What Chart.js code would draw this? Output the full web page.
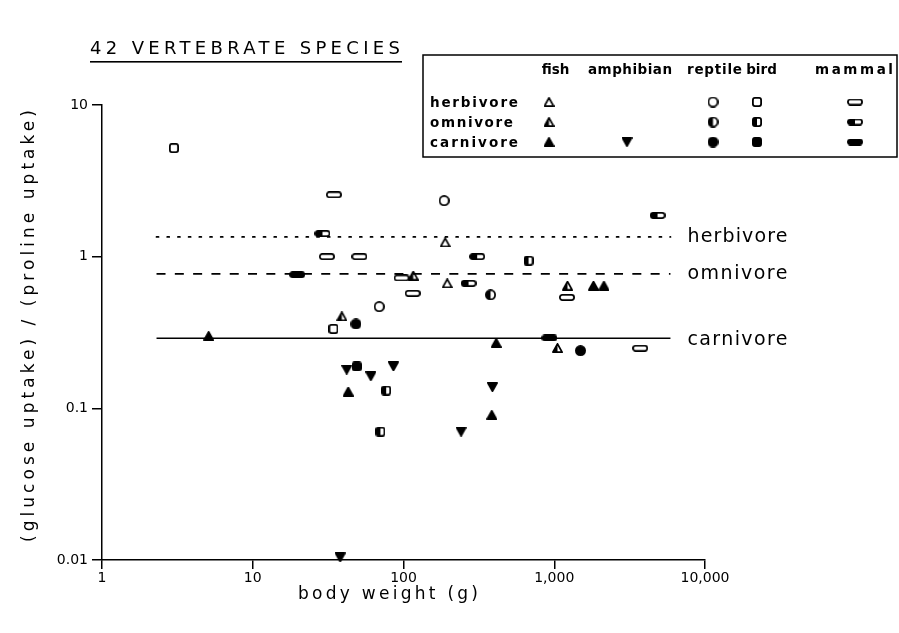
<!DOCTYPE html>
<html>
<head>
<meta charset="utf-8">
<script src="https://cdn.jsdelivr.net/npm/chart.js@4.4.1/dist/chart.umd.min.js"></script>
<style>
  html, body { margin: 0; padding: 0; background: #fff; }
</style>
</head>
<body>
<canvas id="chart" width="899" height="633"></canvas>
<script>
// [body weight (g), glucose uptake / proline uptake]
const fishHerbivore = [[189, 1.24], [195, 0.667]];
const fishOmnivore = [[39, 0.404], [116, 0.75], [1050, 0.25], [1224, 0.644]];
const fishCarnivore = [[5.1, 0.30], [43, 0.129], [385, 0.0905], [412, 0.27], [1821, 0.644], [2134, 0.644]];
const amphibianCarnivore = [[38, 0.0104], [42, 0.18], [60.7, 0.163], [85.7, 0.189], [241, 0.0702], [389, 0.138]];
const reptileHerbivore = [[69, 0.468], [186, 2.34]];
const reptileOmnivore = [[378, 0.56]];
const reptileCarnivore = [[48.4, 0.36], [1493, 0.24]];
const birdHerbivore = [[3.0, 5.2], [34.3, 0.334]];
const birdOmnivore = [[70.3, 0.0702], [76.7, 0.131], [675, 0.94]];
const birdCarnivore = [[49, 0.189]];
const mammalHerbivore = [[31, 1.0], [34.5, 2.56], [51, 1.0], [97, 0.724], [115, 0.573], [1213, 0.539], [3715, 0.249]];
const mammalOmnivore = [[29, 1.42], [270, 0.667], [308, 1.0], [4842, 1.87]];
const mammalCarnivore = [[19.7, 0.76], [929, 0.291]];

// mean ratio lines for each diet
const dietNames = ['herbivore', 'omnivore', 'carnivore'];
const dietRatio = [1.35, 0.77, 0.29];
const dietLineX = [2.3, 5900];

const groupNames = ['fish', 'amphibian', 'reptile', 'bird', 'mammal'];
const xTicks = [1, 10, 100, 1000, 10000];
const yTicks = [0.01, 0.1, 1, 10];

const FONT = '"DejaVu Sans", sans-serif';
Chart.defaults.font.family = FONT;
Chart.defaults.color = '#000';

// little hand-drawn style markers: open / half filled / filled
function makeMarker(shape, fill) {
  const sizes = { tri: [11, 10], down: [11, 10], circle: [11, 11], square: [10, 10], rect: [16, 7] };
  const w = sizes[shape][0], h = sizes[shape][1];
  const cv = document.createElement('canvas');
  cv.width = w; cv.height = h;
  const g = cv.getContext('2d');
  const lw = 1.8, m = lw / 2;
  g.lineWidth = lw;
  g.lineJoin = 'round';
  g.strokeStyle = '#000';
  g.fillStyle = '#000';
  g.beginPath();
  if (shape === 'tri') { g.moveTo(w / 2, m); g.lineTo(w - m, h - m); g.lineTo(m, h - m); g.closePath(); }
  else if (shape === 'down') { g.moveTo(m, m); g.lineTo(w - m, m); g.lineTo(w / 2, h - m); g.closePath(); }
  else if (shape === 'circle') g.arc(w / 2, h / 2, w / 2 - m, 0, Math.PI * 2);
  else g.roundRect(m, m, w - lw, h - lw, shape === 'rect' ? 2.5 : 2);
  if (fill === 'full') g.fill();
  if (fill === 'half') { g.save(); g.clip(); g.fillRect(0, 0, w / 2, h); g.restore(); }
  g.stroke();
  return cv;
}

const markers = {
  fish: ['tri', 'tri', 'tri'],
  amphibian: [null, null, 'down'],
  reptile: ['circle', 'circle', 'circle'],
  bird: ['square', 'square', 'square'],
  mammal: ['rect', 'rect', 'rect']
};
const fills = ['open', 'half', 'full'];
function markerFor(group, diet) {
  const shape = markers[group][diet];
  return shape ? makeMarker(shape, fills[diet]) : null;
}

const pointSets = [
  [fishHerbivore, 'fish', 0], [fishOmnivore, 'fish', 1], [fishCarnivore, 'fish', 2],
  [amphibianCarnivore, 'amphibian', 2],
  [reptileHerbivore, 'reptile', 0], [reptileOmnivore, 'reptile', 1], [reptileCarnivore, 'reptile', 2],
  [birdHerbivore, 'bird', 0], [birdOmnivore, 'bird', 1], [birdCarnivore, 'bird', 2],
  [mammalHerbivore, 'mammal', 0], [mammalOmnivore, 'mammal', 1], [mammalCarnivore, 'mammal', 2]
];

const lineDash = [[2, 8.7], [9, 9.3], []];
const datasets = dietRatio.map((r, i) => ({
  type: 'line',
  data: dietLineX.map(x => ({ x: x, y: r })),
  borderColor: '#000',
  borderWidth: i === 2 ? 1.5 : 1.8,
  borderDash: lineDash[i],
  borderCapStyle: i === 0 ? 'round' : 'butt',
  pointRadius: 0,
  fill: false
}));
pointSets.forEach(s => {
  datasets.push({
    type: 'scatter',
    data: s[0].map(p => ({ x: p[0], y: p[1] })),
    pointStyle: markerFor(s[1], s[2]),
    pointRadius: 5,
    clip: false
  });
});

// spread text to a given width, like the lettering on the original
// (never squeeze it: if it is already wider, just centre it in that space)
function fitText(c, text, x, y, width) {
  c.letterSpacing = '0px';
  const w = c.measureText(text).width;
  const sp = Math.max(0, (width - w) / (text.length - 1));
  const used = w + sp * (text.length - 1);
  c.letterSpacing = sp + 'px';
  c.textAlign = 'left';
  c.fillText(text, x + (width - used) / 2, y);
  c.letterSpacing = '0px';
}

const figureText = {
  id: 'figureText',
  afterDraw(chart) {
    const c = chart.ctx;
    const xs = chart.scales.x;
    c.save();
    c.fillStyle = '#000';
    c.strokeStyle = '#000';
    c.textBaseline = 'alphabetic';

    // title
    c.font = '18px ' + FONT;
    fitText(c, '42 VERTEBRATE SPECIES', 90, 54, 310);
    c.fillRect(90, 61, 312, 1.6);

    // axis titles
    c.font = '17px ' + FONT;
    fitText(c, 'body weight (g)', 298, 599, 180);
    c.save();
    c.translate(34, 542);
    c.rotate(-Math.PI / 2);
    fitText(c, '(glucose uptake) / (proline uptake)', 0, 0, 432);
    c.restore();

    // diet line labels
    c.font = '19px ' + FONT;
    const labelW = [100, 100, 100];
    const labelBase = [242, 279, 345];
    const lx = xs.getPixelForValue(dietLineX[1]) + 17;
    dietNames.forEach((n, i) => fitText(c, n, lx, labelBase[i], labelW[i]));

    // legend box
    c.lineWidth = 1.5;
    c.strokeRect(423, 55, 474, 102);
    c.font = 'bold 13.5px ' + FONT;
    const headX = [543, 588, 687, 748, 815];
    const headW = [25, 84, 55, 27, 78];
    groupNames.forEach((g, i) => fitText(c, g, headX[i], 74, headW[i]));
    const rowBase = [107, 127, 147];
    const rowW = [88, 83, 88];
    const markX = [549, 627, 713, 757, 855];
    dietNames.forEach((d, r) => {
      fitText(c, d, 430, rowBase[r], rowW[r]);
      groupNames.forEach((g, k) => {
        const m = markerFor(g, r);
        if (m) c.drawImage(m, markX[k] - m.width / 2, rowBase[r] - 5 - m.height / 2);
      });
    });
    c.restore();
  }
};

const ctx = document.getElementById('chart').getContext('2d');
const chart = new Chart(ctx, {
  type: 'scatter',
  data: { datasets: datasets },
  options: {
    responsive: false,
    animation: false,
    devicePixelRatio: 1,
    layout: { padding: { left: 0, right: 194, top: 105, bottom: 0 } },
    plugins: { legend: { display: false }, tooltip: { enabled: false } },
    scales: {
      x: {
        type: 'logarithmic',
        min: 1,
        max: 10000,
        afterBuildTicks: s => { s.ticks = xTicks.map(v => ({ value: v })); },
        afterFit: s => { s.height = 73; },
        grid: { drawOnChartArea: false, color: '#000', lineWidth: 1.5, tickLength: 9 },
        border: { color: '#000', width: 1.5 },
        ticks: {
          autoSkip: false, maxRotation: 0, padding: 1,
          font: { size: 14 },
          callback: v => v.toLocaleString('en-US')
        }
      },
      y: {
        type: 'logarithmic',
        min: 0.01,
        max: 10,
        afterBuildTicks: s => { s.ticks = yTicks.map(v => ({ value: v })); },
        afterFit: s => { s.width = 102; },
        grid: { drawOnChartArea: false, color: '#000', lineWidth: 1.5, tickLength: 10 },
        border: { color: '#000', width: 1.5 },
        ticks: {
          autoSkip: false, padding: 4,
          font: { size: 14 },
          callback: v => String(v)
        }
      }
    }
  },
  plugins: [figureText]
});
</script>
</body>
</html>
